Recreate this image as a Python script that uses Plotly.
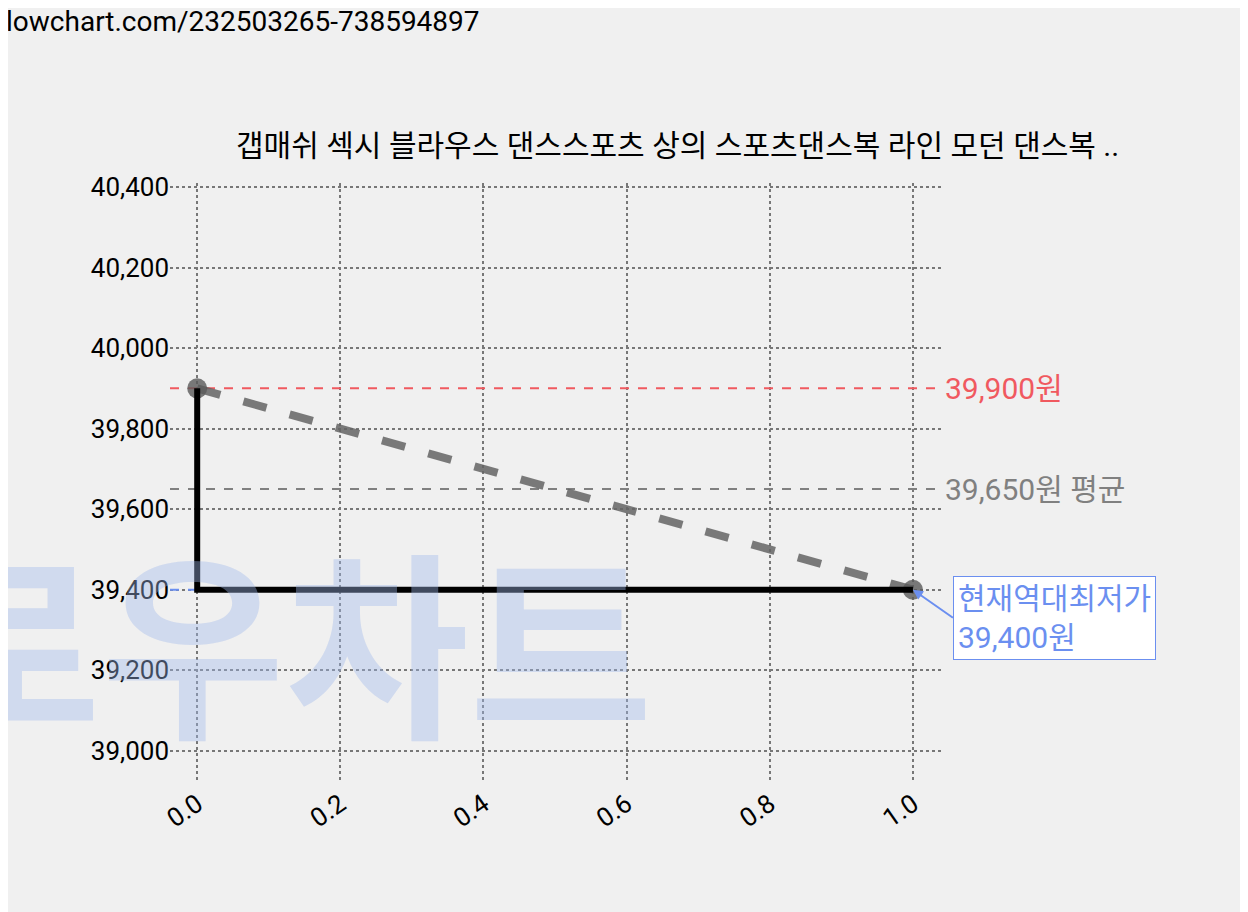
import plotly.graph_objects as go

# data
x_vals = [0.0, 1.0]
prices = [39900, 39400]
max_price = 39900
avg_price = 39650
min_price = 39400
title = "갭매쉬 섹시 블라우스 댄스스포츠 상의 스포츠댄스복 라인 모던 댄스복 .."
url = "lowchart.com/232503265-738594897"

font = "Roboto, Noto Sans CJK KR"
fig = go.Figure()

# watermark
fig.add_annotation(text="<b>로우차트</b>", xref="paper", yref="paper", x=-0.33, y=0.0,
                   xanchor="left", yanchor="bottom", showarrow=False,
                   font=dict(family="Noto Sans CJK KR", size=200, color="rgba(160,185,235,0.4)"))

# reference lines
fig.add_trace(go.Scatter(x=[-0.038, 1.042], y=[max_price] * 2, mode="lines",
                         line=dict(color="#f0595f", width=2, dash="dash"), hoverinfo="skip"))
fig.add_trace(go.Scatter(x=[-0.038, 1.042], y=[avg_price] * 2, mode="lines",
                         line=dict(color="#808080", width=2, dash="dash"), hoverinfo="skip"))
fig.add_trace(go.Scatter(x=[-0.038, 1.0], y=[min_price] * 2, mode="lines",
                         line=dict(color="#6b8ff0", width=2, dash="dash"), hoverinfo="skip"))

# trend line
fig.add_trace(go.Scatter(x=x_vals, y=prices, mode="lines+markers",
                         line=dict(color="rgba(100,100,100,0.85)", width=8, dash="dash"),
                         marker=dict(size=20, color="rgba(90,90,90,0.8)")))
# price step
fig.add_trace(go.Scatter(x=x_vals, y=prices, mode="lines", line_shape="vh",
                         line=dict(color="black", width=6)))

fig.add_annotation(x=1.042, y=max_price, text="39,900원", showarrow=False, xanchor="left",
                   font=dict(family=font, size=30, color="#f0595f"))
fig.add_annotation(x=1.042, y=avg_price, text="39,650원 평균", showarrow=False, xanchor="left",
                   font=dict(family=font, size=30, color="#808080"))
fig.add_annotation(x=1.0, y=min_price, text="현재역대최저가<br>39,400원", showarrow=True,
                   arrowhead=2, arrowcolor="#6b8ff0", arrowwidth=2, ax=40, ay=28,
                   xanchor="left", align="left", bgcolor="white", bordercolor="#6b8ff0",
                   borderwidth=1, borderpad=4,
                   font=dict(family=font, size=30, color="#6b8ff0"))

fig.add_annotation(text=title, xref="paper", yref="paper", x=1.23, y=1.03, xanchor="right",
                   yanchor="bottom", showarrow=False, font=dict(family=font, size=30, color="black"))
fig.add_annotation(text=url, xref="paper", yref="paper", x=-0.215, y=1.30, xanchor="left",
                   yanchor="top", showarrow=False, font=dict(family=font, size=28, color="black"))

grid = dict(showgrid=True, gridcolor="#777777", griddash="dot", gridwidth=2, zeroline=False,
            showline=False, ticks="", tickfont=dict(family=font, size=26, color="black"))
fig.update_xaxes(range=[-0.038, 1.042], tickvals=[0, 0.2, 0.4, 0.6, 0.8, 1.0],
                 ticktext=["0.0", "0.2", "0.4", "0.6", "0.8", "1.0"], tickangle=-35, **grid)
fig.update_yaxes(range=[38920, 40410], tickvals=list(range(39000, 40401, 200)),
                 tickformat=",", **grid)
fig.update_layout(width=1248, height=912, showlegend=False,
                  paper_bgcolor="#f0f0f0", plot_bgcolor="#f0f0f0",
                  margin=dict(l=162, r=313, t=175, b=137))
fig.write_html("out.html")
